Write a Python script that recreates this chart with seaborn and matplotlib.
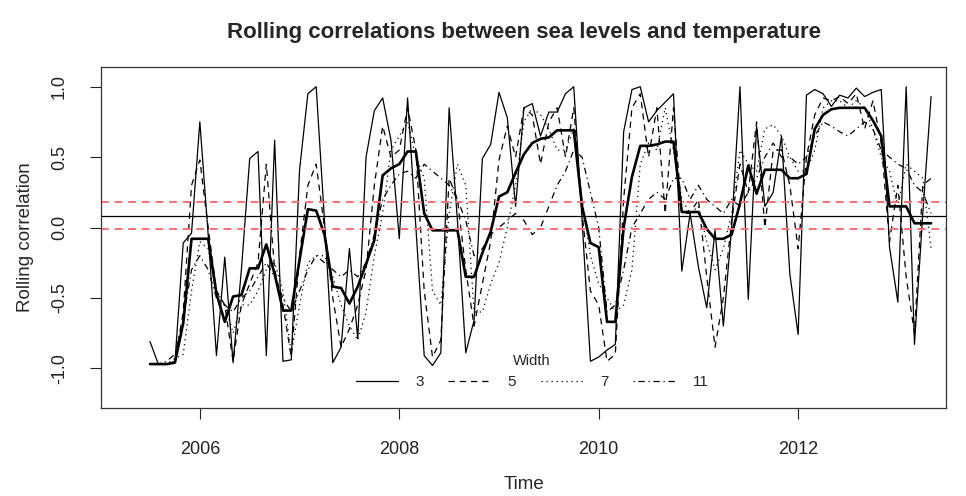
import numpy as np
import pandas as pd
import matplotlib
matplotlib.use("Agg")
import matplotlib.pyplot as plt
import seaborn as sns

# -----------------------
# DATA (monthly, July 2005 - May 2013)
# -----------------------
start_year = 2005.5
n_months = 95

corr_w3 = [
    -0.81, -0.97, -0.97, -0.96, -0.11, -0.04, 0.75, -0.05, -0.91, -0.21,
    -0.96, -0.30, 0.49, 0.54, -0.91, 0.62, -0.95, -0.94, 0.41, 0.95,
    1.00, 0.05, -0.96, -0.85, -0.15, -0.79, 0.50, 0.83, 0.92, 0.62,
    -0.08, 0.92, 0.00, -0.91, -0.98, -0.89, 0.85, 0.05, -0.89, -0.66,
    0.49, 0.59, 0.96, 0.78, 0.15, 0.85, 0.88, 0.65, 0.82, 0.82,
    0.95, 1.00, 0.05, -0.95, -0.92, -0.87, -0.83, 0.68, 0.98, 1.00,
    0.75, 0.83, 0.89, 0.95, -0.31, 0.10, -0.28, -0.57, -0.02, -0.70,
    0.00, 1.00, -0.51, 0.72, 0.15, 0.25, 0.65, -0.33, -0.76, 0.94,
    0.98, 0.95, 0.86, 0.94, 0.92, 0.99, 0.93, 0.96, 0.98, -0.14,
    -0.53, 1.00, -0.83, 0.10, 0.93,
]
corr_w5 = [
    -0.97, -0.97, -0.97, -0.95, -0.60, 0.30, 0.48, 0.00, -0.45, -0.55,
    -0.95, -0.55, -0.40, -0.25, 0.45, -0.30, -0.55, -0.92, -0.20, 0.30,
    0.45, 0.00, -0.50, -0.85, -0.72, -0.55, -0.30, 0.30, 0.72, 0.50,
    0.55, 0.85, 0.55, -0.45, -0.92, -0.80, 0.35, 0.20, -0.30, -0.70,
    -0.40, -0.10, 0.48, 0.72, 0.50, 0.85, 0.80, 0.45, 0.75, 0.85,
    0.50, 0.85, 0.10, -0.45, -0.55, -0.95, -0.90, 0.20, 0.85, 0.95,
    0.50, 0.85, 0.10, 0.85, 0.10, 0.10, 0.20, -0.35, -0.85, -0.50,
    0.05, 0.45, 0.25, 0.75, 0.00, 0.55, 0.55, 0.30, -0.15, 0.50,
    0.80, 0.92, 0.90, 0.93, 0.88, 0.95, 0.70, 0.90, 0.60, -0.10,
    0.30, -0.35, -0.75, 0.30, 0.35,
]
corr_w7 = [
    -0.97, -0.97, -0.97, -0.93, -0.90, -0.45, -0.10, -0.15, -0.45, -0.55,
    -0.75, -0.55, -0.55, -0.45, -0.30, -0.25, -0.45, -0.90, -0.55, -0.25,
    -0.20, -0.20, -0.35, -0.55, -0.70, -0.80, -0.60, -0.20, 0.10, 0.55,
    0.65, 0.75, 0.50, 0.35, -0.45, -0.55, 0.10, 0.45, 0.30, -0.60,
    -0.60, -0.40, -0.25, 0.00, 0.30, 0.75, 0.85, 0.80, 0.70, 0.55,
    0.55, 0.70, 0.20, -0.20, -0.40, -0.50, -0.60, -0.55, -0.30, 0.45,
    0.60, 0.55, 0.85, 0.55, 0.20, 0.10, 0.15, -0.10, -0.30, -0.15,
    0.10, 0.55, 0.45, 0.40, 0.70, 0.73, 0.65, 0.50, 0.40, 0.40,
    0.55, 0.85, 0.90, 0.90, 0.85, 0.90, 0.85, 0.70, 0.50, 0.40,
    0.15, 0.45, 0.40, 0.35, -0.15,
]
corr_w11 = [
    -0.97, -0.97, -0.95, -0.90, -0.65, -0.30, -0.20, -0.30, -0.50, -0.55,
    -0.60, -0.50, -0.45, -0.35, -0.25, -0.35, -0.50, -0.60, -0.45, -0.30,
    -0.20, -0.25, -0.30, -0.35, -0.30, -0.35, -0.25, -0.05, 0.20, 0.30,
    0.38, 0.40, 0.35, 0.45, 0.40, 0.35, 0.30, 0.20, 0.05, -0.20,
    -0.15, -0.05, 0.00, 0.05, 0.10, 0.05, -0.05, 0.00, 0.15, 0.30,
    0.40, 0.55, 0.50, 0.25, 0.00, -0.60, -0.55, -0.30, 0.00, 0.10,
    0.20, 0.25, 0.20, 0.35, 0.35, 0.20, 0.30, 0.20, 0.15, 0.10,
    0.20, 0.15, 0.25, 0.35, 0.50, 0.60, 0.50, 0.50, 0.45, 0.50,
    0.65, 0.75, 0.72, 0.68, 0.65, 0.70, 0.75, 0.70, 0.55, 0.50,
    0.45, 0.42, 0.30, 0.25, 0.10,
]
# heavy summary line drawn on top
corr_summary = [
    -0.97, -0.97, -0.97, -0.96, -0.68, -0.08, -0.08, -0.08, -0.47, -0.67,
    -0.49, -0.48, -0.29, -0.29, -0.12, -0.33, -0.59, -0.59, -0.23, 0.13,
    0.12, -0.05, -0.42, -0.43, -0.54, -0.42, -0.26, -0.09, 0.37, 0.42,
    0.45, 0.54, 0.54, 0.10, -0.02, -0.02, -0.02, -0.02, -0.35, -0.35,
    -0.18, -0.03, 0.22, 0.25, 0.39, 0.52, 0.60, 0.63, 0.64, 0.69,
    0.69, 0.69, 0.15, -0.11, -0.14, -0.67, -0.67, 0.00, 0.36, 0.58,
    0.58, 0.59, 0.61, 0.61, 0.11, 0.11, 0.11, -0.01, -0.08, -0.08,
    -0.05, 0.17, 0.44, 0.24, 0.41, 0.41, 0.41, 0.35, 0.35, 0.38,
    0.70, 0.80, 0.84, 0.85, 0.85, 0.85, 0.85, 0.76, 0.65, 0.15,
    0.15, 0.15, 0.03, 0.03, 0.03,
]

mean_level = 0.084
band_upper = 0.179
band_lower = -0.011

widths = ["3", "5", "7", "11"]

time = start_year + np.arange(n_months) / 12.0
df = pd.concat(
    [
        pd.DataFrame({"time": time, "corr": vals, "Width": w})
        for w, vals in zip(widths, [corr_w3, corr_w5, corr_w7, corr_w11])
    ],
    ignore_index=True,
)
df["Width"] = pd.Categorical(df["Width"], categories=widths)
df_summary = pd.DataFrame({"time": time, "corr": corr_summary})

# -----------------------
# PLOT
# -----------------------
sns.set_theme(style="white")
plt.rcParams["font.family"] = ["Liberation Sans", "DejaVu Sans"]

fig = plt.figure(figsize=(9.66, 4.96), dpi=100)
ax = fig.add_axes([0.105, 0.1774, 0.874, 0.6881])

sns.lineplot(
    data=df, x="time", y="corr", style="Width", color="black",
    dashes=["", (5, 4), (1, 3), (1, 3, 5, 3)], linewidth=0.9, ax=ax,
)
sns.lineplot(data=df_summary, x="time", y="corr", color="black",
             linewidth=1.9, ax=ax, legend=False)

ax.axhline(mean_level, color="black", linewidth=0.9)
for lvl in (band_upper, band_lower):
    ax.axhline(lvl, color="#ff6f6f", linewidth=1.4, linestyle=(0, (4, 3)))

ax.set_xlim(2005.013, 2013.48)
ax.set_ylim(-1.282, 1.142)
ax.set_xticks([2006, 2008, 2010, 2012])
ax.set_yticks([-1.0, -0.5, 0.0, 0.5, 1.0])
ax.set_yticklabels(["-1.0", "-0.5", "0.0", "0.5", "1.0"], rotation=90, va="center")
ax.tick_params(axis="both", direction="out", length=8, width=0.8,
               labelsize=13, bottom=True, left=True, colors="#222222")
ax.tick_params(axis="x", pad=16)
ax.tick_params(axis="y", pad=16)
for s in ax.spines.values():
    s.set_color("#333333")
    s.set_linewidth(0.9)

ax.set_xlabel("Time", fontsize=13.5, labelpad=13)
ax.set_ylabel("Rolling correlation", fontsize=13.5, labelpad=12)
ax.set_title("Rolling correlations between sea levels and temperature",
             fontsize=16, fontweight="bold", pad=21)

leg = ax.legend(loc="lower center", ncol=4, frameon=False, title="Width",
                fontsize=11, title_fontsize=10.5, handlelength=2.8,
                handletextpad=1.1, columnspacing=1.6,
                bbox_to_anchor=(0.51, 0.015))

fig.savefig("out.png", dpi=100)
